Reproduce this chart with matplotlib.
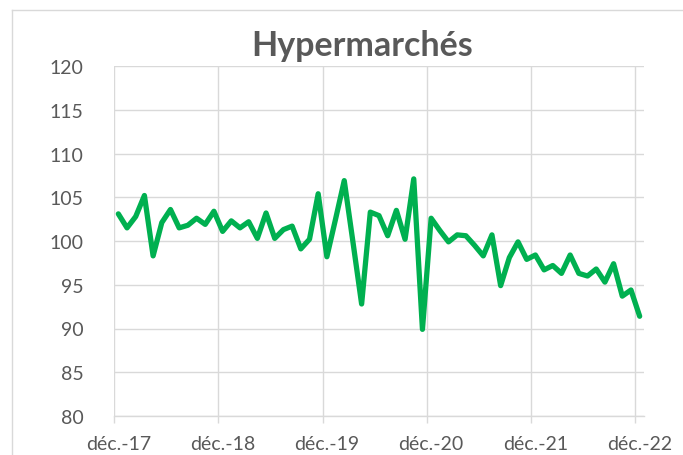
import matplotlib
matplotlib.use("Agg")
import matplotlib.pyplot as plt
from matplotlib.lines import Line2D

# monthly index, déc.-17 .. déc.-22
values = [103.1, 101.5, 102.8, 105.2, 98.3, 102.1, 103.6, 101.5, 101.8, 102.6,
          101.9, 103.4, 101.1, 102.3, 101.5, 102.2, 100.3, 103.2, 100.3, 101.3,
          101.7, 99.1, 100.2, 105.4, 98.2, 102.5, 106.9, 99.9, 92.8, 103.3,
          102.9, 100.6, 103.5, 100.2, 107.1, 89.9, 102.6, 101.2, 99.9, 100.7,
          100.6, 99.5, 98.3, 100.7, 94.9, 98.1, 99.9, 97.9, 98.4, 96.7,
          97.2, 96.3, 98.4, 96.3, 96.0, 96.8, 95.3, 97.4, 93.7, 94.4, 91.4]
x_labels = ['déc.-17', 'déc.-18', 'déc.-19', 'déc.-20', 'déc.-21', 'déc.-22']
y_ticks = [80, 85, 90, 95, 100, 105, 110, 115, 120]
title = 'Hypermarchés'

grid_col = '#D9D9D9'
text_col = '#595959'
plt.rcParams['font.family'] = ['Lato', 'DejaVu Sans']

fig = plt.figure(figsize=(6.83, 4.56), dpi=100)
ax = fig.add_axes([114 / 683, 39 / 456, 530 / 683, 350 / 456])

x = list(range(len(values)))
ax.plot(x, values, color='#00B050', lw=3.8, solid_joinstyle='round',
        solid_capstyle='round', zorder=3)

ax.set_xlim(-0.5, len(values) - 0.5)
ax.set_ylim(y_ticks[0], y_ticks[-1])

# gridlines on category boundaries, labels on categories
bounds = [12 * k - 0.5 for k in range(len(x_labels))]
ax.set_xticks(bounds)
ax.set_xticklabels([])
ax.set_xticks([12 * k for k in range(len(x_labels))], minor=True)
ax.set_xticklabels(x_labels, minor=True)
ax.tick_params(axis='x', which='major', length=5, color=grid_col, width=1)
ax.tick_params(axis='x', which='minor', length=0, pad=14, labelsize=14,
               labelcolor=text_col)

ax.set_yticks(y_ticks)
ax.tick_params(axis='y', length=0, pad=22, labelsize=14, labelcolor=text_col)

ax.grid(True, which='major', color=grid_col, lw=1)
ax.set_axisbelow(True)
for s in ['top', 'right', 'left']:
    ax.spines[s].set_visible(False)
ax.spines['bottom'].set_color(grid_col)
ax.spines['bottom'].set_linewidth(1)

fig.text(362 / 683, 1 - 46 / 456, title, ha='center', va='center',
         fontsize=24.5, fontweight='bold', color=text_col)

# chart frame (cut by the image edge)
fig.add_artist(Line2D([12 / 683, 12 / 683], [0, 1 - 11 / 456],
                      transform=fig.transFigure, color=grid_col, lw=1))
fig.add_artist(Line2D([12 / 683, 1], [1 - 11 / 456, 1 - 11 / 456],
                      transform=fig.transFigure, color=grid_col, lw=1))

fig.savefig('out.png', dpi=100)
